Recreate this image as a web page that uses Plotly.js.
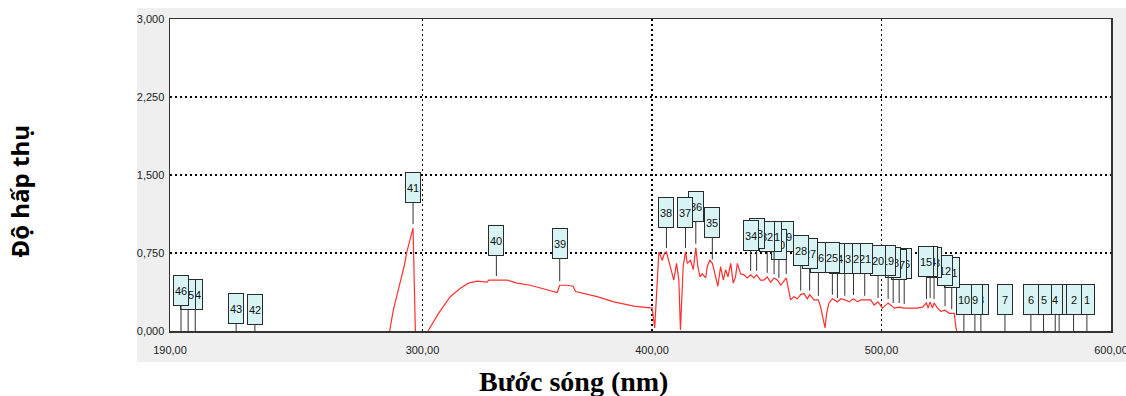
<!DOCTYPE html>
<html>
<head>
<meta charset="utf-8">
<script src="https://cdn.plot.ly/plotly-3.0.1.min.js"></script>
<style>html,body{margin:0;padding:0;background:#fff;}#chart{width:1126px;height:396px;}</style>
</head>
<body>
<div id="chart"></div>
<script>
// ---- spectrum (wavelength nm, absorbance) ----
const wavelength = [
  285.7, 287.3, 290.3, 292.0, 293.2, 295.9, 296.9, null,
  302.4, 307.0, 312.1, 316.5, 320.1, 323.8, 328.1, 328.9, 336.9, 341.2, 347.0, 354.3,
  358.7, 359.8, 363.0, 365.6, 366.7, 376.1, 383.4, 392.1, 396.5, 400.1, 401.2,
  403.0, 404.5, 405.5, 406.3, 408.1, 409.5, 410.7, 411.7, 412.4, 413.6, 414.6, 415.4,
  416.8, 418.0, 419.1, 420.0, 420.9, 421.9, 423.4, 424.1, 425.2, 426.3, 427.0, 427.9,
  428.7, 429.9, 431.1, 432.1, 433.1, 434.3, 435.4, 436.4, 437.2, 438.6, 440.1, 441.5,
  443.0, 444.4, 445.6, 447.3, 448.8, 450.2, 451.7, 453.2, 454.6, 455.3, 456.1, 458.5,
  459.7, 460.4, 461.9, 463.3, 464.8, 466.2, 467.7, 468.7, 470.6, 472.5, 473.5, 474.7,
  475.4, 476.1, 477.1, 478.6, 480.8, 482.2, 484.0, 485.9, 487.8, 489.5, 491.0, 492.7,
  495.3, 496.8, 498.5, 500.4, 501.9, 502.9, 505.1, 505.5, 507.7, 509.9, 512.8, 515.7,
  517.9, 519.6, 520.3, 521.2, 522.2, 522.9, 524.4, 525.9, 527.7, 529.5, 530.6, 531.7,
  532.4, 532.8
];
const absorbance = [
  0, 0.20, 0.47, 0.62, 0.76, 0.99, 0, null,
  0, 0.17, 0.33, 0.41, 0.46, 0.48, 0.47, 0.49, 0.49, 0.46, 0.44, 0.40,
  0.37, 0.44, 0.44, 0.43, 0.38, 0.33, 0.28, 0.24, 0.23, 0.22, 0.03,
  0.76, 0.68, 0.75, 0.76, 0.60, 0.49, 0.65, 0.49, 0.01, 0.62, 0.76, 0.65,
  0.68, 0.59, 0.80, 0.62, 0.52, 0.55, 0.51, 0.62, 0.68, 0.65, 0.59, 0.49,
  0.43, 0.62, 0.49, 0.59, 0.52, 0.65, 0.46, 0.52, 0.65, 0.55, 0.54, 0.51,
  0.54, 0.51, 0.54, 0.49, 0.49, 0.52, 0.47, 0.51, 0.49, 0.47, 0.44, 0.51,
  0.35, 0.30, 0.33, 0.31, 0.35, 0.36, 0.31, 0.35, 0.30, 0.30, 0.23, 0.11,
  0.03, 0.17, 0.27, 0.31, 0.28, 0.31, 0.30, 0.28, 0.31, 0.28, 0.30, 0.30,
  0.30, 0.25, 0.28, 0.22, 0.25, 0.27, 0.23, 0.22, 0.23, 0.22, 0.22, 0.22,
  0.23, 0.27, 0.22, 0.28, 0.22, 0.27, 0.22, 0.19, 0.20, 0.17, 0.17, 0.17,
  0.04, 0
];

// ---- peak markers ----
const peakLabels = [1,2,3,4,5,6,7,8,9,10,11,12,13,14,15,16,17,18,19,20,21,22,23,24,25,26,27,28,29,30,31,32,33,34,35,36,37,38,39,40,41,42,43,44,45,46];
const peakWavelength = [589.5,583.7,577.4,575.7,570.6,565.1,553.8,543.3,540.7,535.9,
  530.6,527.7,522.9,521.2,519.6,509.9,507.7,505.1,502.9,498.5,
  492.7,487.8,484.0,480.8,478.6,472.5,468.7,464.8,458.5,455.3,
  453.2,450.2,445.6,443.0,426.3,419.1,414.6,406.3,359.8,332.2,
  295.9,227.0,218.8,201.0,197.9,194.8];
const peakAbsorbance = [0,0,0,0,0,0,0,0,0,0,
  0.17,0.20,0.27,0.28,0.27,0.22,0.23,0.23,0.27,0.28,
  0.30,0.31,0.30,0.28,0.31,0.30,0.35,0.35,0.51,0.47,
  0.51,0.52,0.54,0.54,0.65,0.80,0.76,0.76,0.44,0.49,
  0.99,0,0,0,0,0];
const labelBoxLevel = [0.30,0.30,0.30,0.30,0.30,0.30,0.30,0.30,0.30,0.30,
  0.56,0.58,0.66,0.67,0.67,0.65,0.64,0.66,0.68,0.68,
  0.70,0.70,0.70,0.70,0.71,0.71,0.75,0.77,0.91,0.83,
  0.91,0.91,0.94,0.92,1.04,1.20,1.14,1.14,0.84,0.87,
  1.38,0.21,0.22,0.35,0.35,0.39];

// ---- axes ----
const xTickVals = [190, 300, 400, 500, 600];
const yTickVals = [0, 0.75, 1.5, 2.25, 3];
const xTitle = 'Bước sóng (nm)';
const yTitle = 'Độ hấp thụ';

const labelFont = '"Liberation Sans", Arial, sans-serif';

const annotations = peakLabels.map((lab, i) => ({
  x: peakWavelength[i], y: peakAbsorbance[i], xref: 'x', yref: 'y',
  text: String(lab), showarrow: true, arrowhead: 0, arrowwidth: 1, arrowcolor: '#333',
  ax: 0, ayref: 'y', ay: labelBoxLevel[i],
  standoff: peakAbsorbance[i] > 0 ? 4 : 0,
  bgcolor: '#d8f4f4', bordercolor: '#2a2a2a', borderwidth: 1, borderpad: 1,
  width: 12, height: 27,
  font: {family: labelFont, size: 11, color: '#111'}
}));

annotations.push({
  text: xTitle, xref: 'paper', yref: 'paper', x: 0.4293, y: -0.162,
  xanchor: 'center', yanchor: 'middle', showarrow: false,
  font: {family: '"Liberation Serif", "Times New Roman", serif', size: 28, weight: 'bold', color: '#000'}
});
annotations.push({
  text: yTitle, xref: 'paper', yref: 'paper', x: -0.1594, y: 0.447,
  xanchor: 'center', yanchor: 'middle', showarrow: false, textangle: -90,
  font: {family: '"Open Sans", "Noto Sans", sans-serif', size: 24, weight: 'bold', color: '#000'}
});

const axisCommon = {
  showgrid: true, gridcolor: '#000', gridwidth: 1.5, griddash: '2px,3px',
  showline: true, linecolor: '#333', linewidth: 1.5, mirror: true,
  ticks: '', zeroline: false, fixedrange: true, ticklabeloverflow: 'allow',
  tickfont: {family: labelFont, size: 11, color: '#222'}
};

const layout = {
  width: 1126, height: 396,
  margin: {l: 170, r: 15, t: 19, b: 65, pad: 0},
  paper_bgcolor: '#ffffff', plot_bgcolor: '#ffffff',
  separators: ',.',
  showlegend: false,
  xaxis: Object.assign({}, axisCommon, {range: [190, 600], tickvals: xTickVals, tickformat: '.2f', ticklabelstandoff: 8}),
  yaxis: Object.assign({}, axisCommon, {range: [0, 3], tickvals: yTickVals, tickformat: '.3f', ticklabelstandoff: 2}),
  shapes: [
    {type: 'rect', xref: 'paper', yref: 'paper', x0: -0.0351, x1: 1.0159, y0: -0.0994, y1: 1.0353,
     fillcolor: '#efefef', line: {width: 0}, layer: 'below'},
    {type: 'rect', xref: 'paper', yref: 'paper', x0: 0, x1: 1, y0: 0, y1: 1,
     fillcolor: '#ffffff', line: {width: 0}, layer: 'below'}
  ],
  annotations: annotations
};

const data = [{
  x: wavelength, y: absorbance, type: 'scatter', mode: 'lines',
  line: {color: '#ff3030', width: 1.2}, connectgaps: false, hoverinfo: 'skip'
}];

Plotly.newPlot('chart', data, layout, {displayModeBar: false, staticPlot: true});
</script>
</body>
</html>
